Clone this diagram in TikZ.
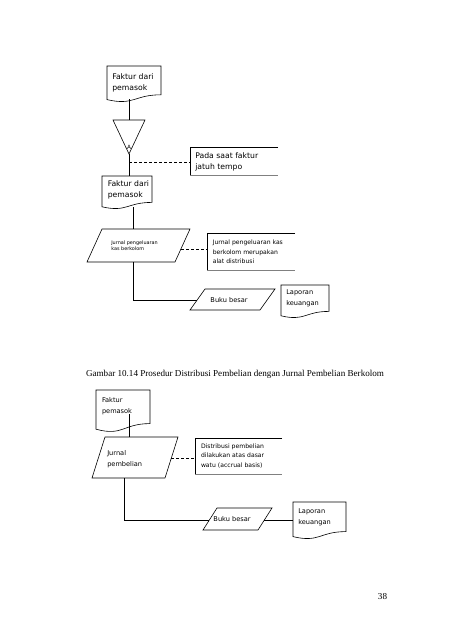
\documentclass[tikz,border=0pt]{standalone}
\usepackage{fontspec}
\setmainfont{Liberation Serif}
\newfontfamily\comic{DejaVu Sans}

\tikzset{
	txt/.style={font=\comic\fontsize{6.6}{11}\selectfont, align=left, inner sep=0pt, anchor=west},
	gross/.style={txt, font=\comic\fontsize{7.7}{11}\selectfont},
	klein/.style={txt, font=\comic\fontsize{6.1}{9.3}\selectfont},
	winzig/.style={txt, font=\comic\fontsize{4.9}{6.3}\selectfont},
	gestrichelt/.style={dash pattern=on 3pt off 2pt},
	unterschrift/.style={font=\fontsize{9.1}{11}\selectfont, inner sep=0pt}
}

\begin{document}
\begin{tikzpicture}[x=1pt, y=-1pt, line width=0.6pt]
\useasboundingbox (0,0) rectangle (452,640);

% Teil 1: Dokumente zeichnen
\draw (107,66) -- (161,66) -- (161,94.8) .. controls (134,94.8) and (134,105.9) .. (107,99.6) -- cycle;
\node[gross] (faktur1) at (112,83) {Faktur dari\\pemasok};
\draw (113,120) -- (145,120) -- (129,154) -- cycle;
\node[winzig, anchor=center, font=\comic\fontsize{5.8}{7}\selectfont] (arsipA) at (129,147) {A};
\draw (102,176) -- (152,176) -- (152,202.4) .. controls (127,202.4) and (127,212.5) .. (102,206.8) -- cycle;
\node[gross] (faktur2) at (107.5,190) {Faktur dari\\pemasok};
\draw (87,262) -- (102,229) -- (190,229) -- (175,262) -- cycle;
\node[winzig] (jurnalpk) at (111,246) {Jurnal pengeluaran\\kas berkolom};
\draw (190,310) -- (205,289) -- (275,289) -- (260,310) -- cycle;
\node[txt, anchor=center] (buku1) at (229,300) {Buku besar};
\draw (281,285) -- (329,285) -- (329,311.4) .. controls (305,311.4) and (305,321.5) .. (281,315.8) -- cycle;
\node[txt] (laporan1) at (286,298.5) {Laporan\\keuangan};

% Keterangan zeichnen
\draw (278,147) -- (190,147) -- (190,175);
\draw[gray] (190,175) -- (278,175);
\node[gross] (pada) at (195,162) {Pada saat faktur\\jatuh tempo};
\draw (295,233) -- (207,233) -- (207,270);
\draw[gray] (207,270) -- (295,270);
\node[klein] (alat) at (212.5,252) {Jurnal pengeluaran kas\\berkolom merupakan\\alat distribusi};

% Verbindungen Teil 1
\coordinate (f1s) at (129,99);
\coordinate (dreieckN) at (129,120);
\coordinate (dreieckS) at (129,154);
\coordinate (f2n) at (129,176);
\coordinate (strich1) at (129,162);
\coordinate (pada-w) at (190,162);
\coordinate (f2s) at (133,207);
\coordinate (jpk-n) at (133,229);
\coordinate (jpk-s) at (133,262);
\coordinate (jpk-o) at (181,249);
\coordinate (alat-w) at (207,249);
\coordinate (buku1-w) at (197,300);
\draw (f1s) -- (dreieckN);
\draw (dreieckS) -- (f2n);
\draw[gestrichelt] (strich1) -- (pada-w);
\draw (f2s) -- (jpk-n);
\draw[gestrichelt] (jpk-o) -- (alat-w);
\draw (jpk-s) |- (buku1-w);

% Beschriftung
\node[unterschrift] (gambar) at (235,374) {Gambar 10.14 Prosedur Distribusi Pembelian dengan Jurnal Pembelian Berkolom};

% Teil 2: Dokumente zeichnen
\draw (96,390) -- (150,390) -- (150,423.6) .. controls (123,423.6) and (123,436.5) .. (96,429.2) -- cycle;
\node[txt] (faktur3) at (101.7,406) {Faktur\\pemasok};
\draw (92,478) -- (105,437) -- (178,437) -- (165,478) -- cycle;
\node[txt] (jurnalpb) at (107,459.5) {Jurnal\\pembelian};
\draw (203,530) -- (217,508) -- (272,508) -- (258,530) -- cycle;
\node[txt, anchor=center] (buku2) at (232,519) {Buku besar};
\draw (293,502) -- (346,502) -- (346,531.6) .. controls (319.5,531.6) and (319.5,543) .. (293,536.6) -- cycle;
\node[txt] (laporan2) at (298,517) {Laporan\\keuangan};
\draw (282,438) -- (195,438) -- (195,474);
\draw[gray] (195,474) -- (282,474);
\node[klein] (distribusi) at (200.7,456) {Distribusi pembelian\\dilakukan atas dasar\\watu (accrual basis)};

% Verbindungen Teil 2
\coordinate (f3s) at (129,414);
\coordinate (jpb-n) at (129,437);
\coordinate (jpb-o) at (171.3,458);
\coordinate (dist-w) at (195,458);
\coordinate (jpb-s) at (124,478);
\coordinate (buku2-w) at (209.4,520);
\coordinate (buku2-o) at (264.4,520);
\coordinate (lap2-w) at (293,520);
\draw (f3s) -- (jpb-n);
\draw[gestrichelt] (jpb-o) -- (dist-w);
\draw (jpb-s) |- (buku2-w);
\draw (buku2-o) -- (lap2-w);

% Seitenzahl
\node[unterschrift] (seite) at (382.5,597) {38};
\end{tikzpicture}
\end{document}
